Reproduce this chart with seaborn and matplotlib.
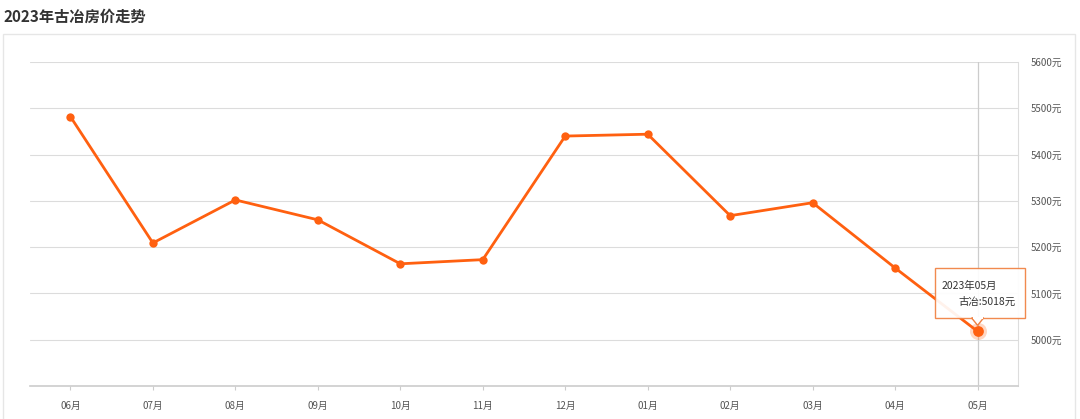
import matplotlib
matplotlib.use("Agg")
import matplotlib.pyplot as plt
import matplotlib.patches as mpatches
from matplotlib.transforms import IdentityTransform
import pandas as pd
import seaborn as sns

months = ["06月", "07月", "08月", "09月", "10月", "11月",
          "12月", "01月", "02月", "03月", "04月", "05月"]
prices = [5482, 5209, 5302, 5259, 5164, 5173,
          5440, 5444, 5268, 5296, 5155, 5018]
y_ticks = [5000, 5100, 5200, 5300, 5400, 5500, 5600]
title = "2023年古冶房价走势"
tip_title = "2023年05月"
tip_label = "古冶"

sns.set_theme(style="white")
plt.rcParams["font.family"] = ["Noto Sans CJK SC", "DejaVu Sans"]

LINE = "#ff6010"
GRID = "#dcdcdc"

df = pd.DataFrame({"month": months, "price": prices})
df["pos"] = range(len(df))

fig = plt.figure(figsize=(10.8, 4.19), dpi=100)
ax = fig.add_axes([30 / 1080, 1 - 386 / 419, 988 / 1080, 324 / 419])

sns.lineplot(data=df, x="pos", y="price", ax=ax, color=LINE, linewidth=2.0,
             marker="o", markersize=6, markeredgewidth=0, zorder=3)

ax.set_xlim(-0.49, len(df) - 0.51)
ax.set_ylim(4900, 5600)
ax.set_xticks(df["pos"])
ax.set_xticklabels(df["month"], fontsize=7, color="#555555")
ax.set_yticks(y_ticks)
ax.set_yticklabels([f"{v}元" for v in y_ticks], fontsize=7, color="#555555")
ax.yaxis.tick_right()
ax.tick_params(axis="y", length=0, pad=9)
ax.tick_params(axis="x", length=3, width=0.8, color="#cccccc", pad=8, bottom=True)
ax.set_xlabel("")
ax.set_ylabel("")
ax.grid(axis="y", color=GRID, linewidth=0.8)
ax.set_axisbelow(True)
for side in ["left", "top"]:
    ax.spines[side].set_visible(False)
ax.spines["bottom"].set_color("#cccccc")
ax.spines["bottom"].set_linewidth(1.2)
ax.spines["right"].set_color("#dddddd")
ax.spines["right"].set_linewidth(0.8)

# crosshair at the highlighted point
last = df.iloc[-1]
ax.axvline(last["pos"], color="#cccccc", linewidth=0.9, zorder=1)
ax.scatter([last["pos"]], [last["price"]], s=150, color=LINE, alpha=0.25,
           linewidths=0, zorder=4)
ax.scatter([last["pos"]], [last["price"]], s=60, color=LINE, linewidths=0, zorder=5)

# tooltip (display coordinates relative to the point)
fig.canvas.draw()
px, py = ax.transData.transform((last["pos"], last["price"]))
bx0, bx1 = px - 43, px + 47
by0, by1 = py + 13, py + 63
box = mpatches.Rectangle((bx0, by0), bx1 - bx0, by1 - by0, transform=IdentityTransform(),
                         facecolor="white", edgecolor="#f08040", linewidth=1.0,
                         alpha=0.92, zorder=6, clip_on=False)
fig.patches.append(box)
tri = mpatches.Polygon([(px - 6, by0 + 0.5), (px + 6, by0 + 0.5), (px, by0 - 7)],
                       closed=True, transform=IdentityTransform(), facecolor="white",
                       edgecolor="#f08040", linewidth=1.0, zorder=6, clip_on=False)
fig.patches.append(tri)
cover = mpatches.Rectangle((px - 5, by0 - 0.5), 10, 2, transform=IdentityTransform(),
                           facecolor="white", edgecolor="none", zorder=7, clip_on=False)
fig.patches.append(cover)
fig.text((bx0 + 7) / 1080, (by1 - 17) / 419, tip_title, fontsize=7.5, color="#333333",
         ha="left", va="center", zorder=8)
fig.text((bx1 - 9) / 1080, (by1 - 33) / 419, f"{tip_label}:{last['price']}元", fontsize=7.5,
         color="#333333", ha="right", va="center", zorder=8)

# outer frame and title
frame = mpatches.Rectangle((3 / 1080, -0.05), 1072 / 1080, 1 - 34 / 419 + 0.05,
                           transform=fig.transFigure, facecolor="none",
                           edgecolor="#e6e6e6", linewidth=1.0, zorder=0)
fig.patches.append(frame)
fig.text(3 / 1080, 1 - 17 / 419, title, fontsize=11, fontweight="bold",
         color="#333333", ha="left", va="center")

fig.savefig("out.png", dpi=100)
